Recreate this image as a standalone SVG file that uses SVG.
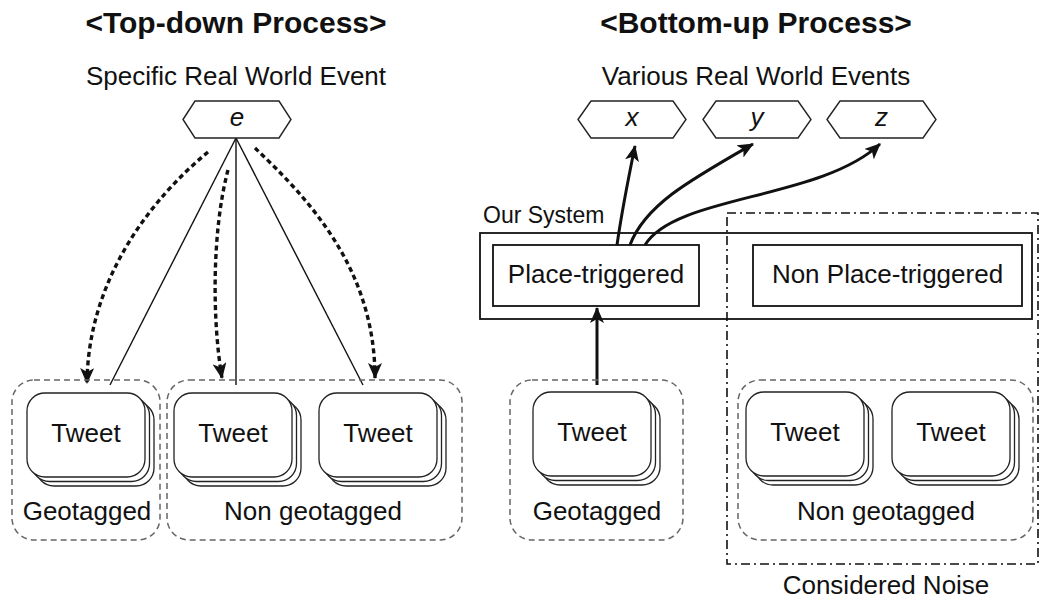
<svg xmlns="http://www.w3.org/2000/svg" width="1040" height="599" viewBox="0 0 1040 599">
<style>
text{font-family:"Liberation Sans",Arial,sans-serif;fill:#111}
.title{font-size:30px;font-weight:bold}
.sub{font-size:26px}
.lbl{font-size:26px}
.hexl{font-size:26px;font-style:italic}
.hex{fill:#fff;stroke:#222;stroke-width:1.4}
.grp{fill:none;stroke:#666;stroke-width:1.5;stroke-dasharray:6 4}
.tw{fill:#fff;stroke:#222;stroke-width:1.3}
.box{fill:none;stroke:#111;stroke-width:1.8}
.noise{fill:none;stroke:#111;stroke-width:1.6;stroke-dasharray:9 4 2 4}
.thin{fill:none;stroke:#111;stroke-width:1.4}
.dot{fill:none;stroke:#111;stroke-width:3.4;stroke-dasharray:5 3.5}
.thick{fill:none;stroke:#111;stroke-width:3}
</style>
<defs>
<marker id="ah" markerUnits="userSpaceOnUse" markerWidth="18" markerHeight="14" refX="15" refY="7" orient="auto">
<path d="M0,0 L16,7 L0,14 L4,7 Z" fill="#111" stroke="none"/>
</marker>
<g id="stack">
<rect class="tw" x="9" y="9" width="118" height="84" rx="18"/>
<rect class="tw" x="4.5" y="4.5" width="118" height="84" rx="18"/>
<rect class="tw" x="0" y="0" width="118" height="84" rx="18"/>
</g>
</defs>

<text class="title" x="236" y="33" text-anchor="middle">&lt;Top-down Process&gt;</text>
<text class="title" x="756" y="33" text-anchor="middle">&lt;Bottom-up Process&gt;</text>
<text class="sub" x="236" y="85" text-anchor="middle">Specific Real World Event</text>
<text class="sub" x="756" y="85" text-anchor="middle">Various Real World Events</text>

<g id="connectors">
<line class="thin" x1="236" y1="138" x2="110" y2="385"/>
<line class="thin" x1="236" y1="138" x2="236" y2="385"/>
<line class="thin" x1="236" y1="138" x2="363" y2="385"/>
<path class="dot" d="M208,152 C150,200 88,280 87,383" marker-end="url(#ah)"/>
<path class="dot" d="M228,170 C212,230 212,320 222,378" marker-end="url(#ah)"/>
<path class="dot" d="M255,148 C310,200 375,270 375,378" marker-end="url(#ah)"/>
<path class="thick" d="M617,245 C622,210 628,180 635,146" marker-end="url(#ah)"/>
<path class="thick" d="M630,245 C645,205 690,180 753,144" marker-end="url(#ah)"/>
<path class="thick" d="M645,245 C675,195 820,200 880,144" marker-end="url(#ah)"/>
<line class="thick" x1="597" y1="385" x2="597" y2="308" marker-end="url(#ah)"/>
</g>

<g id="node-e">
<polygon class="hex" points="183,119.5 195,101 279,101 291,119.5 279,138 195,138"/>
<text class="hexl" x="237" y="126" text-anchor="middle">e</text>
</g>
<g id="node-x">
<polygon class="hex" points="578,119.5 591,101 673,101 686,119.5 673,138 591,138"/>
<text class="hexl" x="632" y="126" text-anchor="middle">x</text>
</g>
<g id="node-y">
<polygon class="hex" points="703,119.5 716,101 798,101 811,119.5 798,138 716,138"/>
<text class="hexl" x="757" y="126" text-anchor="middle">y</text>
</g>
<g id="node-z">
<polygon class="hex" points="827,119.5 840,101 923,101 936,119.5 923,138 840,138"/>
<text class="hexl" x="881.5" y="126" text-anchor="middle">z</text>
</g>

<g id="left-geotagged">
<rect class="grp" x="12" y="380" width="148" height="160" rx="22"/>
<use href="#stack" x="27" y="393"/>
<text class="lbl" x="86" y="442" text-anchor="middle">Tweet</text>
<text class="lbl" x="87" y="520" text-anchor="middle">Geotagged</text>
</g>
<g id="left-nongeotagged">
<rect class="grp" x="167" y="380" width="295" height="160" rx="22"/>
<use href="#stack" x="174" y="393"/>
<text class="lbl" x="233" y="442" text-anchor="middle">Tweet</text>
<use href="#stack" x="319" y="393"/>
<text class="lbl" x="378" y="442" text-anchor="middle">Tweet</text>
<text class="lbl" x="313" y="520" text-anchor="middle">Non geotagged</text>
</g>

<g id="our-system">
<text x="483" y="223" style="font-size:23px">Our System</text>
<rect class="box" x="480" y="233" width="552" height="86"/>
</g>
<g id="place-triggered">
<rect class="box" x="493" y="245" width="206" height="61"/>
<text class="lbl" x="596" y="283" text-anchor="middle">Place-triggered</text>
</g>
<g id="non-place-triggered">
<rect class="box" x="753" y="245" width="269" height="61"/>
<text class="lbl" x="887.5" y="283" text-anchor="middle">Non Place-triggered</text>
</g>

<g id="right-geotagged">
<rect class="grp" x="510" y="380" width="173" height="160" rx="22"/>
<use href="#stack" x="533" y="392"/>
<text class="lbl" x="592" y="441" text-anchor="middle">Tweet</text>
<text class="lbl" x="597" y="520" text-anchor="middle">Geotagged</text>
</g>
<g id="right-nongeotagged">
<rect class="grp" x="738" y="380" width="295" height="160" rx="22"/>
<use href="#stack" x="746" y="392"/>
<text class="lbl" x="805" y="441" text-anchor="middle">Tweet</text>
<use href="#stack" x="892" y="392"/>
<text class="lbl" x="951" y="441" text-anchor="middle">Tweet</text>
<text class="lbl" x="886" y="520" text-anchor="middle">Non geotagged</text>
</g>

<g id="considered-noise">
<rect class="noise" x="727" y="213" width="311" height="351"/>
<text class="lbl" x="886" y="594" text-anchor="middle">Considered Noise</text>
</g>
</svg>
